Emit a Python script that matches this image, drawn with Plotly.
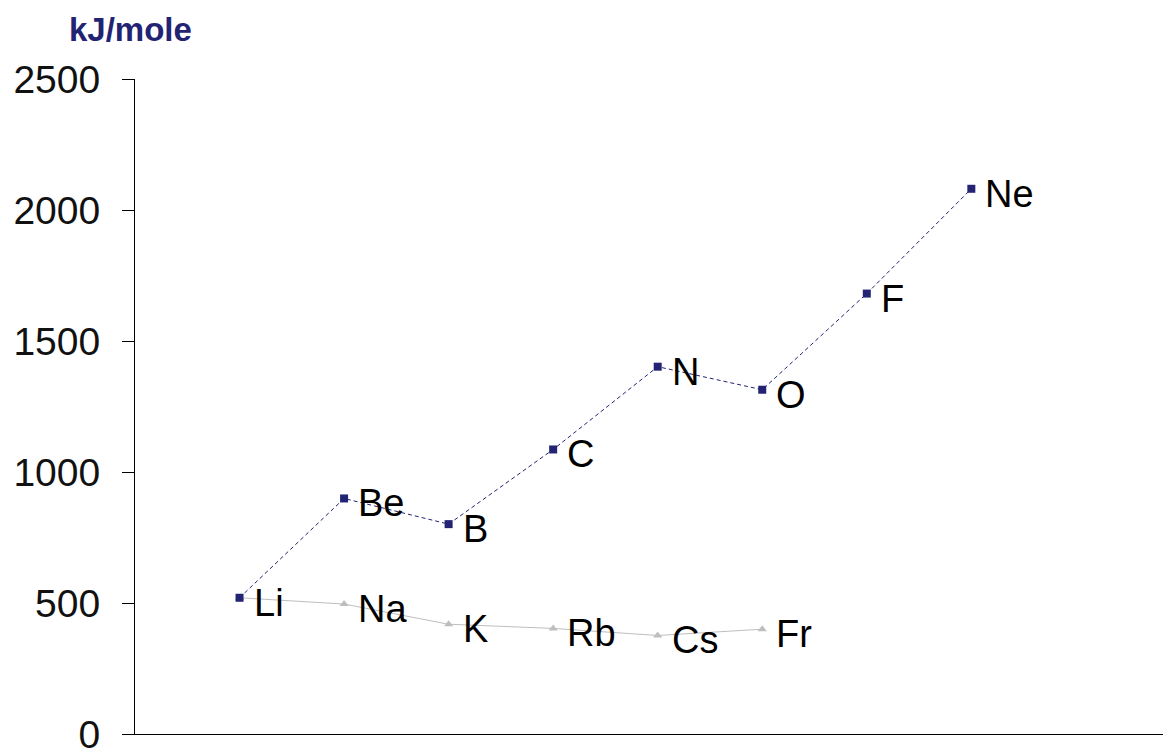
import plotly.graph_objects as go

# first ionisation energy, kJ/mole
period2 = ["Li", "Be", "B", "C", "N", "O", "F", "Ne"]
period2_energy = [520, 899, 801, 1086, 1402, 1314, 1681, 2081]

group1 = ["Li", "Na", "K", "Rb", "Cs", "Fr"]
group1_energy = [520, 496, 419, 403, 376, 400]

y_ticks = [0, 500, 1000, 1500, 2000, 2500]

NAVY = "#232374"
GREY = "#BEBEBE"
FONT = "Arial, Liberation Sans, sans-serif"

fig = go.Figure()

fig.add_trace(go.Scatter(
    x=list(range(1, len(group1) + 1)), y=group1_energy,
    mode="lines+markers",
    line=dict(color=GREY, width=1),
    marker=dict(symbol="triangle-up", size=8, color=GREY),
    cliponaxis=False, hoverinfo="x+y"))

fig.add_trace(go.Scatter(
    x=list(range(1, len(period2) + 1)), y=period2_energy,
    mode="lines+markers",
    line=dict(color=NAVY, width=1, dash="4px,3px"),
    marker=dict(symbol="square", size=8, color=NAVY),
    cliponaxis=False, hoverinfo="x+y"))

# element labels, sitting a little right of and below each point
labels = list(zip(range(1, len(period2) + 1), period2_energy, period2))
labels += [(i, v, el) for i, (v, el) in enumerate(zip(group1_energy, group1), start=1) if el != "Li"]
for xv, yv, el in labels:
    fig.add_annotation(x=xv, y=yv, text=el, showarrow=False, xanchor="left", yanchor="middle",
                       xshift=12, yshift=-5, font=dict(family=FONT, size=38, color="black"))

fig.add_annotation(text="<b>kJ/mole</b>", xref="paper", yref="paper",
                   x=-0.066, y=1.075, xanchor="left", yanchor="middle", showarrow=False,
                   font=dict(family=FONT, size=33, color=NAVY))

# page body has an 8px margin, so the figure is offset by that much
fig.update_layout(width=1163, height=749, showlegend=False,
                  margin=dict(l=127, r=0, t=71, b=23, autoexpand=False),
                  plot_bgcolor="white", paper_bgcolor="white")
fig.update_xaxes(range=[0, 9.91], showline=True, linecolor="black", linewidth=1,
                 showgrid=False, zeroline=False, showticklabels=False, ticks="",
                 automargin=False)
fig.update_yaxes(range=[0, 2500], tickvals=y_ticks, showline=True, linecolor="black", linewidth=1,
                 showgrid=False, zeroline=False, ticks="outside", ticklen=12, tickcolor="black",
                 ticklabelstandoff=14, automargin=False, ticklabeloverflow="allow",
                 tickfont=dict(family=FONT, size=39, color="#111111"))

fig.write_html("out.html")
